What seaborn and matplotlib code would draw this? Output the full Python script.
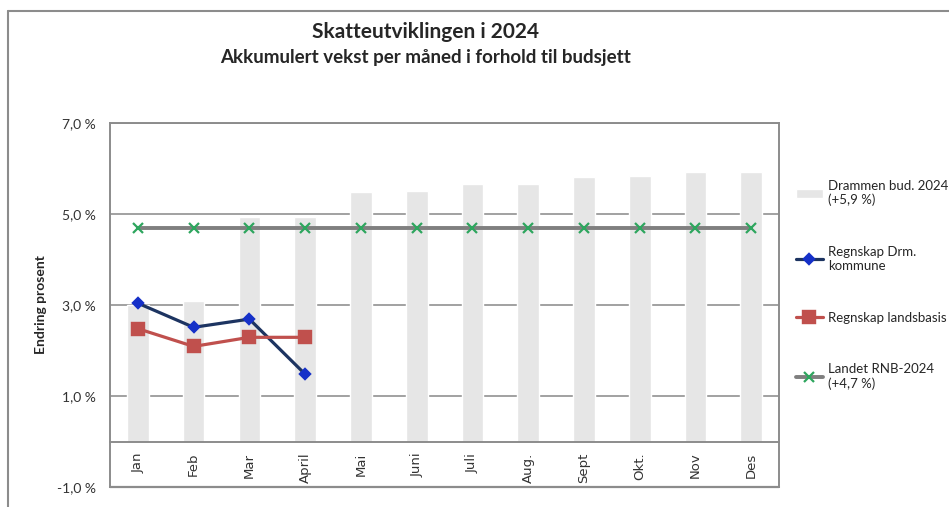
import numpy as np
import pandas as pd
import seaborn as sns
import matplotlib.pyplot as plt
from matplotlib.lines import Line2D
from matplotlib.ticker import FuncFormatter

months = ["Jan", "Feb", "Mar", "April", "Mai", "Juni", "Juli", "Aug.",
          "Sept", "Okt.", "Nov", "Des"]
budsjett_drammen = [3.0, 3.09, 4.93, 4.94, 5.48, 5.50, 5.66, 5.67, 5.82, 5.84, 5.92, 5.92]
regnskap_drm = [3.04, 2.51, 2.69, 1.48]
regnskap_lands = [2.48, 2.09, 2.29, 2.29]
landet_rnb = [4.7, 4.7, 4.7, 4.7, 4.7, 4.7, 4.7, 4.7, 4.7, 4.7, 4.7, 4.7]
yticks = [-1, 1, 3, 5, 7]

sns.set_style("white")
plt.rcParams["font.family"] = ["Lato", "DejaVu Sans"]

fig = plt.figure(figsize=(9.49, 5.07), dpi=100)
ax = fig.add_axes([0.1159, 0.0394, 0.705, 0.718])

sns.barplot(x=months, y=budsjett_drammen, order=months, color="#e6e6e6",
            saturation=1, width=0.39, label="Drammen bud. 2024\n(+5,9 %)", ax=ax)
sns.pointplot(x=months[:4], y=regnskap_drm, order=months, color="#1d3461",
              marker="D", markersize=5, markerfacecolor="#1530c8",
              markeredgecolor="#1530c8", linewidth=2.3, errorbar=None,
              label="Regnskap Drm.\nkommune", ax=ax)
sns.pointplot(x=months[:4], y=regnskap_lands, order=months, color="#c0504d",
              marker="s", markersize=8, linewidth=2.3, errorbar=None,
              label="Regnskap landsbasis", ax=ax)
sns.pointplot(x=months, y=landet_rnb, order=months, color="#7f7f7f",
              marker="x", markersize=7, markeredgecolor="#2ea65e",
              markeredgewidth=1.6, linewidth=2.8, errorbar=None,
              label="Landet RNB-2024\n(+4,7 %)", ax=ax)

ax.set_xlim(-0.5, 11.5)
ax.set_ylim(-1, 7)
ax.set_yticks(yticks)
ax.yaxis.set_major_formatter(FuncFormatter(lambda v, p: f"{v:.1f} %".replace(".", ",")))
ax.set_axisbelow(True)
ax.yaxis.grid(True, color="#9a9a9a", lw=1.3)
ax.xaxis.grid(False)

frame = "#8c8c8c"
for s in ax.spines.values():
    s.set_color(frame)
    s.set_linewidth(1.4)
ax.spines["bottom"].set_position(("data", 0))
ax.axhline(-1, color=frame, lw=1.6, clip_on=False, zorder=3)

ax.tick_params(axis="y", length=0, pad=10, labelsize=10, labelcolor="#333333")
ax.tick_params(axis="x", length=0, pad=8, labelsize=9.5, labelcolor="#333333")
for t in ax.get_xticklabels():
    t.set_rotation(90)
    t.set_family("DejaVu Sans")
ax.set_xlabel("")
ax.set_ylabel("Endring prosent", fontsize=10, fontweight="bold")
ax.yaxis.set_label_coords(-0.094, 0.5)

handles, labels = ax.get_legend_handles_labels()
# bar entry first, as in the original legend
order = [labels.index(l) for l in labels if l.startswith("Drammen")] + \
        [i for i, l in enumerate(labels) if not l.startswith("Drammen")]
ax.legend([handles[i] for i in order], [labels[i] for i in order],
          loc="upper left", bbox_to_anchor=(0.826, 0.669),
          bbox_transform=fig.transFigure, frameon=False, fontsize=9.5,
          labelspacing=3.0, handlelength=2.05, handletextpad=0.38)

fig.text(0.448, 0.9375, "Skatteutviklingen i 2024", ha="center", va="center",
         fontsize=15, fontweight="bold")
fig.text(0.448, 0.886, "Akkumulert vekst per måned i forhold til budsjett",
         ha="center", va="center", fontsize=13.5, fontweight="bold")

# outer chart frame (top and left visible in the crop)
fig.add_artist(Line2D([0.0085, 1.0], [0.978, 0.978], transform=fig.transFigure,
                      color="#8c8c8c", lw=1.5))
fig.add_artist(Line2D([0.0085, 0.0085], [0.0, 0.978], transform=fig.transFigure,
                      color="#8c8c8c", lw=1.5))

fig.savefig("out.png", dpi=100)
